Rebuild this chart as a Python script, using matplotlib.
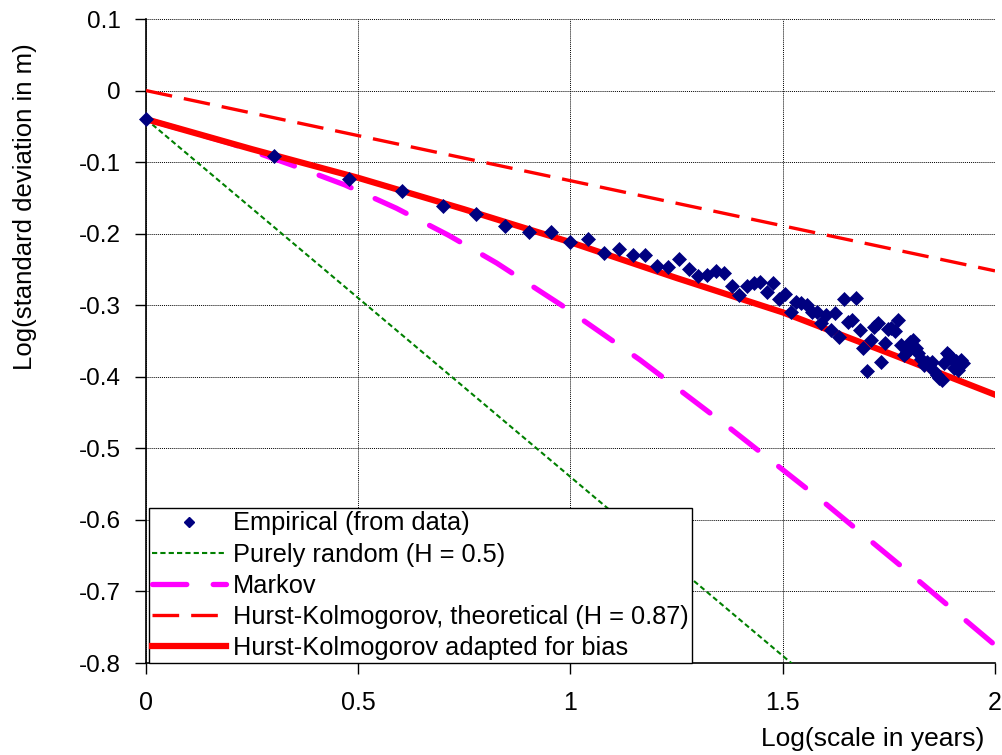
import numpy as np
import matplotlib
matplotlib.use("Agg")
import matplotlib.pyplot as plt
from matplotlib.lines import Line2D

plt.rcParams['font.family'] = ['Liberation Sans', 'DejaVu Sans']

# Empirical standard deviation at each aggregation scale (scale in years, log10 of std in m)
scale_years = list(range(1, 85))
log_std = [
    -0.040, -0.092, -0.123, -0.141, -0.161, -0.172, -0.189, -0.197, -0.198, -0.212,
    -0.207, -0.227, -0.221, -0.230, -0.230, -0.245, -0.247, -0.236, -0.250, -0.259,
    -0.258, -0.252, -0.255, -0.273, -0.286, -0.273, -0.269, -0.268, -0.281, -0.269,
    -0.291, -0.284, -0.310, -0.295, -0.297, -0.299, -0.310, -0.310, -0.325, -0.314,
    -0.334, -0.311, -0.345, -0.292, -0.323, -0.320, -0.290, -0.335, -0.360, -0.392,
    -0.349, -0.330, -0.325, -0.379, -0.353, -0.333, -0.332, -0.336, -0.321, -0.355,
    -0.369, -0.365, -0.352, -0.349, -0.360, -0.367, -0.375, -0.383, -0.379, -0.383,
    -0.380, -0.392, -0.397, -0.402, -0.404, -0.381, -0.367, -0.369, -0.375, -0.388,
    -0.378, -0.390, -0.376, -0.381,
]

# Model curves (log scale vs log std)
random_x = [0.0, 2.0]
random_y = [-0.04, -1.04]

markov_x = [0.0, 0.2, 0.343, 0.469, 0.59, 0.712, 0.826, 0.979, 1.164, 1.376, 1.588, 1.796, 2.0]
markov_y = [-0.04, -0.074, -0.104, -0.132, -0.1645, -0.202, -0.241, -0.300, -0.3765, -0.472, -0.571, -0.673, -0.775]

hk_theo_x = [0.0, 2.0]
hk_theo_y = [0.0, -0.252]

hk_bias_x = [0.0, 0.25, 0.5, 0.75, 1.0, 1.25, 1.5, 1.75, 2.0]
hk_bias_y = [-0.04, -0.082, -0.122, -0.166, -0.212, -0.262, -0.310, -0.367, -0.425]

x_ticks = [0, 0.5, 1, 1.5, 2]
x_tick_labels = ['0', '0.5', '1', '1.5', '2']
y_ticks = [0.1, 0, -0.1, -0.2, -0.3, -0.4, -0.5, -0.6, -0.7, -0.8]
y_tick_labels = ['0.1', '0', '-0.1', '-0.2', '-0.3', '-0.4', '-0.5', '-0.6', '-0.7', '-0.8']

fig = plt.figure(figsize=(10.03, 7.55), dpi=100)
ax = fig.add_axes([146 / 1003, 92 / 755, 849 / 1003, 644 / 755])

log_scale = np.log10(scale_years)

ax.plot(random_x, random_y, color='#008000', lw=1.5, dashes=(2.5, 1.5), zorder=3)
ax.plot(markov_x, markov_y, color='#FF00FF', lw=3.8, dashes=(6.5, 5.0),
        solid_capstyle='round', dash_capstyle='round', zorder=3)
ax.plot(hk_theo_x, hk_theo_y, color='#FF0000', lw=2.4, dashes=(8.0, 3.6), zorder=3)
ax.plot(hk_bias_x, hk_bias_y, color='#FF0000', lw=4.5, zorder=4)
ax.plot(log_scale, log_std, linestyle='none', marker='D', ms=6.7,
        color='#000080', mec='#000080', mew=0.5, zorder=5, clip_on=False)

ax.set_xlim(0, 2)
ax.set_ylim(-0.8, 0.1)
ax.set_xticks(x_ticks)
ax.set_xticklabels(x_tick_labels)
ax.set_yticks(y_ticks)
ax.set_yticklabels(y_tick_labels)
ax.tick_params(axis='both', direction='out', length=8, width=1, color='black',
               labelcolor='black')
ax.tick_params(axis='x', pad=12, labelsize=18)
ax.tick_params(axis='y', pad=10, labelsize=17.5)

ax.grid(True, color='black', linestyle=(0, (1, 1)), lw=0.7, zorder=0)
ax.set_axisbelow(True)
for side in ('top', 'right'):
    ax.spines[side].set_visible(False)
for side in ('left', 'bottom'):
    ax.spines[side].set_linewidth(1.2)
    ax.spines[side].set_color('black')

ax.set_ylabel('Log(standard deviation in m)', fontsize=18.5)
ax.yaxis.set_label_coords(-0.128, 0.708)
fig.text(984 / 1003, 1 - 739 / 755, 'Log(scale in years)', fontsize=19,
         ha='right', va='center')

handles = [
    Line2D([], [], linestyle='none', marker='D', ms=5, color='#000080'),
    Line2D([], [], color='#008000', lw=1.5, dashes=(2.5, 1.5)),
    Line2D([], [], color='#FF00FF', lw=3.8, dashes=(6.5, 5.0), dash_capstyle='round'),
    Line2D([], [], color='#FF0000', lw=2.4, dashes=(8.0, 3.6)),
    Line2D([], [], color='#FF0000', lw=4.5),
]
labels = [
    'Empirical (from data)',
    'Purely random (H = 0.5)',
    'Markov',
    'Hurst-Kolmogorov, theoretical (H = 0.87)',
    'Hurst-Kolmogorov adapted for bias',
]
leg = ax.legend(handles, labels, loc='lower left', bbox_to_anchor=(0.0035, 0.0),
                borderaxespad=0, fontsize=18.3, frameon=True, fancybox=False,
                edgecolor='black', framealpha=1, handlelength=2.9,
                handletextpad=0.28, labelspacing=0.28, borderpad=0.12)
leg.get_frame().set_linewidth(1.0)
leg.set_zorder(10)

fig.savefig('out.png', dpi=100)
